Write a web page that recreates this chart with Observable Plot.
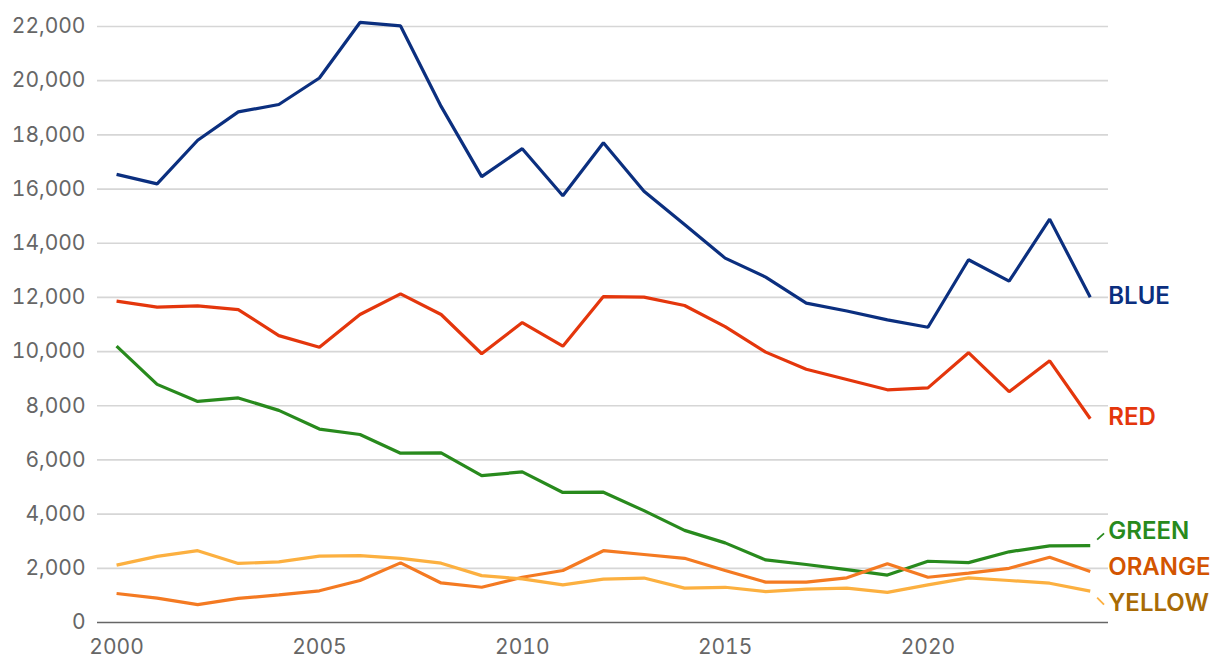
<!DOCTYPE html>
<html>
<head>
<meta charset="utf-8">
<script src="https://cdn.jsdelivr.net/npm/d3@7"></script>
<script src="https://cdn.jsdelivr.net/npm/@observablehq/plot@0.6"></script>
<style>
  html, body { margin: 0; padding: 0; background: #fff; }
  #chart { width: 1220px; height: 668px; }
  svg { font-family: Inter, "Noto Sans", sans-serif; }
</style>
</head>
<body>
<div id="chart"></div>
<script>
const years = d3.range(2000, 2025);
const blue   = [16540,16190,17800,18850,19120,20100,22150,22020,19050,16460,17490,15750,17710,15920,14690,13450,12750,11790,11500,11170,10900,13390,12600,14890,12010];
const red    = [11860,11640,11690,11550,10590,10160,11370,12130,11370, 9920,11070,10200,12030,12010,11700,10920, 9980, 9350, 8970, 8590, 8660, 9960, 8520, 9660, 7520];
const green  = [10200, 8790, 8160, 8290, 7830, 7140, 6940, 6250, 6260, 5420, 5560, 4800, 4810, 4130, 3400, 2940, 2310, 2140, 1950, 1750, 2260, 2210, 2610, 2830, 2840];
const orange = [ 1070,  900,  660,  890, 1020, 1170, 1550, 2200, 1460, 1300, 1670, 1920, 2650, 2510, 2370, 1920, 1490, 1490, 1650, 2170, 1670, 1820, 2000, 2410, 1880];
const yellow = [ 2120, 2440, 2650, 2180, 2240, 2450, 2470, 2370, 2190, 1730, 1610, 1390, 1600, 1640, 1270, 1300, 1140, 1230, 1270, 1110, 1390, 1650, 1550, 1450, 1160];

const seriesNames = ["BLUE", "RED", "GREEN", "ORANGE", "YELLOW"];
const seriesValues = [blue, red, green, orange, yellow];
const lineColors  = ["#0b2f7f", "#e4360c", "#288a1d", "#f47a22", "#fcb040"];
const labelColors = ["#0b2f7f", "#e4360c", "#288a1d", "#d35400", "#a86a05"];
const labelDy     = [-1, -1, -14, -4, 12];
const yTicks = d3.range(0, 22001, 2000);
const xTicks = [2000, 2005, 2010, 2015, 2020];

const seriesRows = seriesNames.map((s, i) => years.map((yr, j) => ({series: s, year: yr, value: seriesValues[i][j]})));
const last = seriesNames.map((s, i) => ({series: s, year: years[years.length - 1], value: seriesValues[i][years.length - 1], i}));

const marks = [
  Plot.ruleY(yTicks.filter(t => t > 0), {stroke: "#d6d6d6", strokeWidth: 1.7}),
  Plot.ruleY([0], {stroke: "#666", strokeWidth: 1.7}),
  Plot.axisY({ticks: yTicks, tickSize: 0, tickPadding: 12, tickFormat: d3.format(","), fontSize: 21, fill: "#666", label: null}),
  Plot.axisX({ticks: xTicks, tickSize: 0, tickPadding: 17, tickFormat: d => String(d), fontSize: 21, fill: "#666", label: null}),
];
seriesRows.forEach((rowsS, i) => {
  marks.push(Plot.line(rowsS, {x: "year", y: "value", stroke: lineColors[i], strokeWidth: 3.2, strokeLinejoin: "miter", strokeLinecap: "butt"}));
});
last.forEach(d => {
  marks.push(Plot.text([d], {x: "year", y: "value", text: "series", textAnchor: "start", dx: 18, dy: labelDy[d.i],
    fill: labelColors[d.i], fontSize: 24, fontWeight: 600}));
});
// small leader ticks for the dodged labels
last.filter(d => Math.abs(labelDy[d.i]) > 8).forEach(d => {
  marks.push(Plot.link([d], {
    x1: r => r.year + 0.17, x2: r => r.year + 0.34,
    y1: r => r.value + (labelDy[r.i] < 0 ? 220 : -240),
    y2: r => r.value + (labelDy[r.i] < 0 ? 450 : -500),
    stroke: lineColors[d.i], strokeWidth: 1.8
  }));
});

const chart = Plot.plot({
  width: 1220,
  height: 668,
  marginLeft: 97,
  marginRight: 112,
  marginTop: 26,
  marginBottom: 46,
  x: {domain: [1999.53, 2024.45]},
  y: {domain: [0, 22000]},
  style: {fontFamily: "Inter, 'Noto Sans', sans-serif", background: "#fff", overflow: "visible"},
  marks
});
document.getElementById("chart").appendChild(chart);
</script>
</body>
</html>
